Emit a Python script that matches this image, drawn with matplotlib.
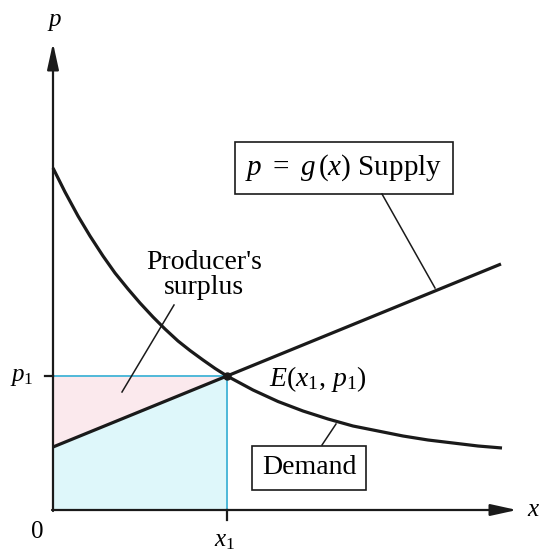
import numpy as np
import matplotlib.pyplot as plt

plt.rcParams['font.family'] = ['Liberation Serif', 'DejaVu Serif']
plt.rcParams['mathtext.fontset'] = 'custom'
plt.rcParams['mathtext.rm'] = 'Liberation Serif'
plt.rcParams['mathtext.it'] = 'Liberation Serif:italic'

# Demand curve (x, p)
demand_x = [0, 12, 25, 37, 50, 62, 75, 87, 100, 112, 125, 137, 150, 162, 174,
            200, 225, 250, 275, 300, 325, 350, 375, 400, 425, 449]
demand_p = [342, 318, 294, 274, 254, 237, 221, 207, 193, 181, 169, 159.5, 150, 141.6, 134,
            120, 108.5, 99, 91, 84, 79, 74, 70, 67, 64, 62]

# Supply line p = g(x)
supply_x = [0, 174, 448]
supply_p = [63, 134, 246]

# Equilibrium E(x1, p1)
x1 = 174
p1 = 134

black = '#1a1a1a'
cyan_line = '#41b3d6'
cyan_fill = '#def7fa'
pink_fill = '#fbe9ed'

fig = plt.figure(figsize=(5.44, 5.51), dpi=100)
ax = fig.add_axes([0, 0, 1, 1])
ax.set_xlim(-53, 491)
ax.set_ylim(-41, 510)
ax.axis('off')

# shaded areas under p1, split by the supply line
xs = np.array([supply_x[0], supply_x[1]])
ps = np.array([supply_p[0], supply_p[1]])
ax.fill_between(xs, 0, ps, color=cyan_fill, lw=0, zorder=1)
ax.fill_between(xs, ps, p1, color=pink_fill, lw=0, zorder=1)

# guide lines at x1 and p1
ax.plot([0, x1], [p1, p1], color=cyan_line, lw=1.3, zorder=2)
ax.plot([x1, x1], [0, p1], color=cyan_line, lw=1.3, zorder=2)

# axes with arrows
arrow = dict(arrowstyle='-|>,head_length=1.0,head_width=0.22',
             lw=1.6, color=black, mutation_scale=16, shrinkA=0, shrinkB=0)
ax.annotate('', xy=(0, 467), xytext=(0, -1), arrowprops=arrow)
ax.annotate('', xy=(464, 0), xytext=(-1, 0), arrowprops=arrow)

# ticks at p1 and x1
ax.plot([-8, 0], [p1, p1], color=black, lw=1.6, zorder=3)
ax.plot([x1, x1], [0, -10], color=black, lw=1.6, zorder=3)

# curves
ax.plot(demand_x, demand_p, color=black, lw=2.3, solid_capstyle='butt', zorder=4)
ax.plot(supply_x, supply_p, color=black, lw=2.3, solid_capstyle='butt', zorder=4)
ax.plot([x1], [p1], 'o', color=black, ms=5, zorder=5)

# axis labels
ax.text(2, 488, r'$p$', fontsize=18, ha='center', va='center')
ax.text(481, 0, r'$x$', fontsize=18, ha='center', va='center')
ax.text(-16, -22, '0', fontsize=18, ha='center', va='center')
ax.text(172, -31, r'$x_1$', fontsize=18, ha='center', va='center')
ax.text(-31, 133, r'$p_1$', fontsize=18, ha='center', va='center')

# equilibrium label
ax.text(216, 131, r'$E(x_1,\, p_1)$', fontsize=20, ha='left', va='center')

# producer's surplus label and pointer
ax.text(151, 235, "Producer's\nsurplus", fontsize=20, ha='center', va='center',
        linespacing=0.95)
ax.plot([69, 121], [118, 205], color=black, lw=1.1, zorder=3)

# supply box and pointer
ax.text(291, 342, r'$p\ =\ g\,(x)$ Supply', fontsize=21, ha='center', va='center',
        bbox=dict(boxstyle='square,pad=0.36', fc='white', ec=black, lw=1.2))
ax.plot([329, 382], [316, 222], color=black, lw=1.1, zorder=3)

# demand box and pointer
ax.text(256, 42, 'Demand', fontsize=20, ha='center', va='center',
        bbox=dict(boxstyle='square,pad=0.35', fc='white', ec=black, lw=1.2))
ax.plot([269, 283], [65, 86], color=black, lw=1.1, zorder=3)

fig.savefig('out.png', dpi=100, facecolor='white')
